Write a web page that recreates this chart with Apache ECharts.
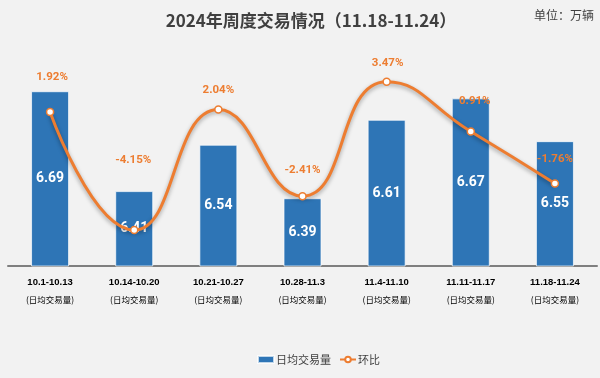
<!DOCTYPE html>
<html><head><meta charset="utf-8">
<script src="https://cdn.jsdelivr.net/npm/echarts@6/dist/echarts.min.js"></script>
<style>html,body{margin:0;padding:0;background:#f2f2f2;}#c{width:600px;height:378px;}</style>
</head><body><div id="c"></div>
<script>
const categories = ['10.1-10.13','10.14-10.20','10.21-10.27','10.28-11.3','11.4-11.10','11.11-11.17','11.18-11.24'];
const volume = [6.69, 6.41, 6.54, 6.39, 6.61, 6.67, 6.55];
const change = [1.92, -4.15, 2.04, -2.41, 3.47, 0.91, -1.76];

const labelShift = [[2,-20],[-1,-55],[0,-4],[0,-11],[1,-3],[4,-15],[0,-9]];
const CJK = '"Noto Sans CJK SC", "Noto Sans", sans-serif';
const chart = echarts.init(document.getElementById('c'));
chart.setOption({
  backgroundColor: '#f2f2f2',
  animation: false,
  title: {
    text: '2024年周度交易情况（11.18-11.24）',
    left: 306, top: 7, textAlign: 'center',
    textStyle: {fontSize: 17, fontWeight: 'bold', color: '#404040', fontFamily: CJK}
  },
  graphic: [{
    type: 'text', right: 6, top: 9,
    style: {text: '单位：万辆', fontSize: 12, fill: '#404040', fontFamily: CJK}
  }],
  legend: {
    left: 252, top: 349,
    itemWidth: 16, itemHeight: 7, itemGap: 8,
    textStyle: {fontSize: 11, color: '#404040', fontFamily: CJK, padding: [0,0,0,-3]},
    data: [{name: '日均交易量', icon: 'rect'}, {name: '环比'}]
  },
  grid: {left: 8, right: 3, top: 52, bottom: 112},
  xAxis: {
    type: 'category', data: categories,
    axisLine: {onZero: false, lineStyle: {color: '#7f7f7f', width: 2}},
    axisTick: {show: false},
    axisLabel: {
      interval: 0, margin: 8,
      formatter: v => '{a|' + v + '}\n{b|(日均交易量)}',
      rich: {
        a: {fontSize: 9.5, fontWeight: 'bold', color: '#000', fontFamily: '"Liberation Sans Narrow", "Liberation Sans", sans-serif', lineHeight: 17},
        b: {fontSize: 8.5, color: '#000', fontFamily: CJK, lineHeight: 17}
      }
    }
  },
  yAxis: [
    {type: 'value', min: 6.2, max: 6.8, show: false, splitLine: {show: false}},
    {type: 'value', min: -6, max: 5, show: false, splitLine: {show: false}}
  ],
  series: [
    {
      name: '日均交易量', type: 'bar', data: volume, barWidth: 38,
      itemStyle: {color: '#2E75B6', borderColor: 'rgba(255,255,255,0.7)', borderWidth: 1},
      label: {show: true, position: 'inside', color: '#fff', fontSize: 14, fontWeight: 'bold', fontFamily: 'Roboto, sans-serif'}
    },
    {
      name: '环比', type: 'line', yAxisIndex: 1, smooth: 0.5,
      data: change.map((v, i) => ({value: v, label: {offset: labelShift[i]}})),
      symbol: 'circle', symbolSize: 7,
      itemStyle: {color: '#fff', borderColor: '#ED7D31', borderWidth: 1.5},
      lineStyle: {color: '#ED7D31', width: 3, shadowColor: 'rgba(0,0,0,0.35)', shadowBlur: 4, shadowOffsetY: 2},
      label: {show: true, position: 'top', distance: 5, color: '#ED7D31', fontSize: 11.5, fontWeight: 'bold', fontFamily: 'Roboto, sans-serif', formatter: p => p.value + '%'},
      z: 5
    }
  ]
});
</script></body></html>
